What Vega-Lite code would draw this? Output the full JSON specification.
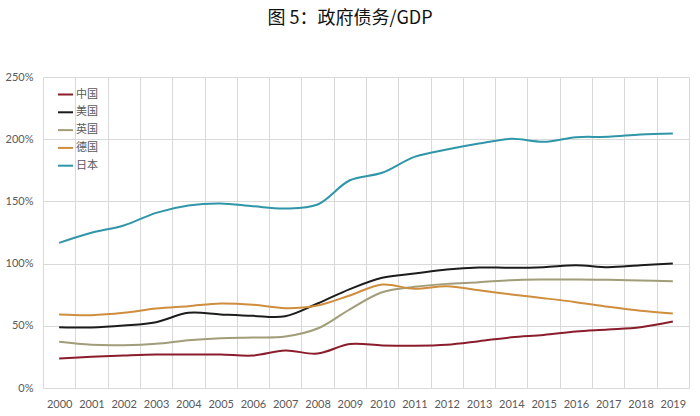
{
  "$schema": "https://vega.github.io/schema/vega-lite/v6.json",
  "autosize": {"type": "none"},
  "width": 646,
  "height": 311,
  "padding": {"left": 43, "top": 77, "right": 11, "bottom": 28},
  "background": "white",
  "title": {
    "text": "图 5：政府债务/GDP",
    "font": "Noto Sans CJK SC",
    "fontSize": 18,
    "fontWeight": "normal",
    "color": "#111111",
    "anchor": "middle",
    "dx": -16,
    "offset": 43
  },
  "config": {
    "view": {"stroke": null},
    "font": "Lato",
    "axis": {
      "labelFont": "Lato",
      "labelFontSize": 11,
      "labelColor": "#595959",
      "gridColor": "#d9d9d9",
      "gridWidth": 1,
      "domain": false,
      "ticks": false,
      "title": null
    },
    "legend": {
      "labelFont": "Noto Sans CJK SC",
      "labelFontSize": 11,
      "labelColor": "#595959"
    }
  },
  "data": {
    "values": [
      {"year": "2000", "country": "中国", "value": 23.7},
      {"year": "2001", "country": "中国", "value": 25.1},
      {"year": "2002", "country": "中国", "value": 26.1},
      {"year": "2003", "country": "中国", "value": 26.9},
      {"year": "2004", "country": "中国", "value": 26.9},
      {"year": "2005", "country": "中国", "value": 26.9},
      {"year": "2006", "country": "中国", "value": 26.1},
      {"year": "2007", "country": "中国", "value": 30.1},
      {"year": "2008", "country": "中国", "value": 27.7},
      {"year": "2009", "country": "中国", "value": 35.3},
      {"year": "2010", "country": "中国", "value": 34.2},
      {"year": "2011", "country": "中国", "value": 33.9},
      {"year": "2012", "country": "中国", "value": 34.7},
      {"year": "2013", "country": "中国", "value": 37.6},
      {"year": "2014", "country": "中国", "value": 40.8},
      {"year": "2015", "country": "中国", "value": 42.7},
      {"year": "2016", "country": "中国", "value": 45.4},
      {"year": "2017", "country": "中国", "value": 47.0},
      {"year": "2018", "country": "中国", "value": 48.9},
      {"year": "2019", "country": "中国", "value": 53.5},

      {"year": "2000", "country": "美国", "value": 48.9},
      {"year": "2001", "country": "美国", "value": 48.6},
      {"year": "2002", "country": "美国", "value": 50.2},
      {"year": "2003", "country": "美国", "value": 52.9},
      {"year": "2004", "country": "美国", "value": 60.4},
      {"year": "2005", "country": "美国", "value": 59.1},
      {"year": "2006", "country": "美国", "value": 58.0},
      {"year": "2007", "country": "美国", "value": 57.7},
      {"year": "2008", "country": "美国", "value": 67.9},
      {"year": "2009", "country": "美国", "value": 79.5},
      {"year": "2010", "country": "美国", "value": 88.6},
      {"year": "2011", "country": "美国", "value": 92.0},
      {"year": "2012", "country": "美国", "value": 95.3},
      {"year": "2013", "country": "美国", "value": 96.9},
      {"year": "2014", "country": "美国", "value": 96.6},
      {"year": "2015", "country": "美国", "value": 97.1},
      {"year": "2016", "country": "美国", "value": 98.7},
      {"year": "2017", "country": "美国", "value": 97.1},
      {"year": "2018", "country": "美国", "value": 98.7},
      {"year": "2019", "country": "美国", "value": 100.1},

      {"year": "2000", "country": "英国", "value": 37.1},
      {"year": "2001", "country": "英国", "value": 34.7},
      {"year": "2002", "country": "英国", "value": 34.4},
      {"year": "2003", "country": "英国", "value": 35.5},
      {"year": "2004", "country": "英国", "value": 38.4},
      {"year": "2005", "country": "英国", "value": 40.0},
      {"year": "2006", "country": "英国", "value": 40.6},
      {"year": "2007", "country": "英国", "value": 41.4},
      {"year": "2008", "country": "英国", "value": 47.8},
      {"year": "2009", "country": "英国", "value": 63.3},
      {"year": "2010", "country": "英国", "value": 77.0},
      {"year": "2011", "country": "英国", "value": 81.3},
      {"year": "2012", "country": "英国", "value": 83.7},
      {"year": "2013", "country": "英国", "value": 85.0},
      {"year": "2014", "country": "英国", "value": 86.7},
      {"year": "2015", "country": "英国", "value": 87.2},
      {"year": "2016", "country": "英国", "value": 87.2},
      {"year": "2017", "country": "英国", "value": 87.0},
      {"year": "2018", "country": "英国", "value": 86.4},
      {"year": "2019", "country": "英国", "value": 85.9},

      {"year": "2000", "country": "德国", "value": 59.1},
      {"year": "2001", "country": "德国", "value": 58.5},
      {"year": "2002", "country": "德国", "value": 60.4},
      {"year": "2003", "country": "德国", "value": 63.9},
      {"year": "2004", "country": "德国", "value": 65.8},
      {"year": "2005", "country": "德国", "value": 67.9},
      {"year": "2006", "country": "德国", "value": 66.9},
      {"year": "2007", "country": "德国", "value": 64.2},
      {"year": "2008", "country": "德国", "value": 66.3},
      {"year": "2009", "country": "德国", "value": 74.4},
      {"year": "2010", "country": "德国", "value": 83.2},
      {"year": "2011", "country": "德国", "value": 79.7},
      {"year": "2012", "country": "德国", "value": 81.8},
      {"year": "2013", "country": "德国", "value": 78.6},
      {"year": "2014", "country": "德国", "value": 75.2},
      {"year": "2015", "country": "德国", "value": 72.2},
      {"year": "2016", "country": "德国", "value": 69.0},
      {"year": "2017", "country": "德国", "value": 65.3},
      {"year": "2018", "country": "德国", "value": 62.1},
      {"year": "2019", "country": "德国", "value": 59.9},

      {"year": "2000", "country": "日本", "value": 116.7},
      {"year": "2001", "country": "日本", "value": 124.8},
      {"year": "2002", "country": "日本", "value": 130.6},
      {"year": "2003", "country": "日本", "value": 140.8},
      {"year": "2004", "country": "日本", "value": 146.7},
      {"year": "2005", "country": "日本", "value": 148.3},
      {"year": "2006", "country": "日本", "value": 146.1},
      {"year": "2007", "country": "日本", "value": 144.3},
      {"year": "2008", "country": "日本", "value": 147.5},
      {"year": "2009", "country": "日本", "value": 167.0},
      {"year": "2010", "country": "日本", "value": 173.0},
      {"year": "2011", "country": "日本", "value": 185.8},
      {"year": "2012", "country": "日本", "value": 191.7},
      {"year": "2013", "country": "日本", "value": 196.5},
      {"year": "2014", "country": "日本", "value": 200.3},
      {"year": "2015", "country": "日本", "value": 197.9},
      {"year": "2016", "country": "日本", "value": 201.6},
      {"year": "2017", "country": "日本", "value": 201.9},
      {"year": "2018", "country": "日本", "value": 203.8},
      {"year": "2019", "country": "日本", "value": 204.6}
    ]
  },
  "mark": {"type": "line", "interpolate": "catmull-rom", "strokeWidth": 2},
  "encoding": {
    "x": {
      "field": "year",
      "type": "ordinal",
      "bandPosition": 0.5,
      "scale": {"type": "band", "paddingInner": 0, "paddingOuter": 0},
      "axis": {
        "grid": true,
        "tickBand": "extent",
        "labelAngle": 0,
        "labelPadding": 10,
        "labelFontSize": 11
      }
    },
    "y": {
      "field": "value",
      "type": "quantitative",
      "scale": {"domain": [0, 250], "nice": false},
      "axis": {
        "values": [0, 50, 100, 150, 200, 250],
        "labelExpr": "datum.value + '%'",
        "labelPadding": 10,
        "grid": true
      }
    },
    "color": {
      "field": "country",
      "type": "nominal",
      "sort": ["中国", "美国", "英国", "德国", "日本"],
      "scale": {
        "domain": ["中国", "美国", "英国", "德国", "日本"],
        "range": ["#8b1c2c", "#1c1c1c", "#a09d78", "#cf8d3e", "#2e96a8"]
      },
      "legend": {
        "title": null,
        "orient": "none",
        "legendX": 14,
        "legendY": 9,
        "symbolType": "stroke",
        "symbolSize": 225,
        "symbolStrokeWidth": 2,
        "rowPadding": 3.8,
        "labelOffset": 2
      }
    }
  }
}
